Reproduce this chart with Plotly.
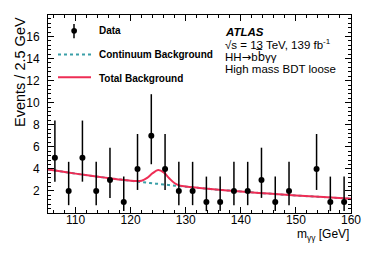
import plotly.graph_objects as go

# ---- data ----
bin_centers = [106.25, 108.75, 111.25, 113.75, 116.25, 118.75, 121.25, 123.75, 126.25, 128.75,
               131.25, 133.75, 136.25, 138.75, 141.25, 143.75, 146.25, 148.75, 151.25, 153.75,
               156.25, 158.75]
counts = [5, 2, 5, 2, 3, 1, 4, 7, 4, 2, 2, 1, 1, 2, 2, 3, 1, 2, None, 4, 1, 1]
err_up = [3.38, 2.64, 3.38, 2.64, 2.92, 2.30, 3.16, 3.77, 3.16, 2.64, 2.64, 2.30, 2.30, 2.64,
          2.64, 2.92, 2.30, 2.64, None, 3.16, 2.30, 2.30]
err_down = [2.16, 1.29, 2.16, 1.29, 1.63, 0.83, 1.91, 2.58, 1.91, 1.29, 1.29, 0.83, 0.83, 1.29,
            1.29, 1.63, 0.83, 1.29, None, 1.91, 0.83, 0.83]

curve_x = [105, 107.5, 110, 112.5, 115, 117.5, 120, 121, 122, 123, 124, 125, 126, 127, 128, 129,
           130, 132.5, 135, 137.5, 140, 145, 150, 155, 160]
continuum = [3.95, 3.76, 3.57, 3.39, 3.23, 3.07, 2.92, 2.86, 2.80, 2.75, 2.69, 2.64, 2.59, 2.53,
             2.48, 2.43, 2.39, 2.27, 2.15, 2.05, 1.95, 1.76, 1.59, 1.44, 1.30]
total_bkg = [3.95, 3.76, 3.57, 3.39, 3.23, 3.07, 2.92, 2.89, 2.93, 3.18, 3.61, 3.89, 3.68, 3.15,
             2.70, 2.48, 2.40, 2.27, 2.15, 2.05, 1.95, 1.76, 1.59, 1.44, 1.30]

x_ticks = [110, 120, 130, 140, 150, 160]
y_ticks = [2, 4, 6, 8, 10, 12, 14, 16]

FONT = "Liberation Sans, Arial, Helvetica, sans-serif"
RED = "#EE2D55"
TEAL = "#3A9FA8"

fig = go.Figure()
fig.add_trace(go.Scatter(x=curve_x, y=continuum, mode="lines",
                         line=dict(color=TEAL, width=2, dash="dot", shape="spline"),
                         showlegend=False, hoverinfo="skip"))
fig.add_trace(go.Scatter(x=curve_x, y=total_bkg, mode="lines",
                         line=dict(color=RED, width=2, shape="spline"),
                         showlegend=False, hoverinfo="skip"))
fig.add_trace(go.Scatter(x=bin_centers, y=counts, mode="markers",
                         marker=dict(color="black", size=6),
                         error_y=dict(type="data", symmetric=False, array=err_up,
                                      arrayminus=err_down, color="black", thickness=1.5, width=0),
                         showlegend=False))

# pixel helpers for the plot area
L, R, T, B = 48, 351, 15, 213
def px(x):
    return (x - L) / (R - L)
def py(y):
    return (B - y) / (B - T)

ann = []
for t, yy in [("<b>Data</b>", 31), ("<b>Continuum Background</b>", 55), ("<b>Total Background</b>", 78)]:
    ann.append(dict(x=px(97), y=py(yy), text=t, xanchor="left", yanchor="middle",
                    xref="paper", yref="paper", showarrow=False,
                    font=dict(family=FONT, size=10, color="black")))

info = [("<b><i>ATLAS</i></b>", 32), ("√s = 13 TeV, 139 fb<sup>-1</sup>", 44),
        ("HH<span style='font-family:DejaVu Sans'>→</span>b<span style='font-family:DejaVu Sans'>b\u0305</span>γγ", 56.5),
        ("High mass BDT loose", 69)]
for t, yy in info:
    ann.append(dict(x=px(223), y=py(yy), text=t, xanchor="left", yanchor="middle",
                    xref="paper", yref="paper", showarrow=False,
                    font=dict(family=FONT, size=11.5, color="black")))

ann.append(dict(x=1, y=py(235), xref="paper", yref="paper", text="m<sub>γγ</sub> [GeV]",
                xanchor="right", yanchor="middle", showarrow=False,
                font=dict(family=FONT, size=12, color="black")))
ann.append(dict(x=px(20), y=1, xref="paper", yref="paper", text="Events / 2.5 GeV",
                textangle=-90, xanchor="center", yanchor="top", showarrow=False,
                font=dict(family=FONT, size=14.5, color="black")))

shapes = [
    dict(type="line", xref="paper", yref="paper", x0=px(74), x1=px(74), y0=py(24), y1=py(38.3),
         line=dict(color="black", width=1.5)),
    dict(type="circle", xref="paper", yref="paper", x0=px(71.3), x1=px(77), y0=py(28), y1=py(33.7),
         fillcolor="black", line=dict(color="black", width=0)),
    dict(type="line", xref="paper", yref="paper", x0=px(58), x1=px(91), y0=py(54.5), y1=py(54.5),
         line=dict(color=TEAL, width=2, dash="dot")),
    dict(type="line", xref="paper", yref="paper", x0=px(58), x1=px(91), y0=py(77.3), y1=py(77.3),
         line=dict(color=RED, width=2)),
]

fig.update_layout(
    width=374, height=253,
    margin=dict(l=L, r=374 - R, t=T, b=253 - B),
    paper_bgcolor="white", plot_bgcolor="white",
    font=dict(family=FONT, size=12, color="black"),
    annotations=ann, shapes=shapes,
    xaxis=dict(range=[105, 160], tickvals=x_ticks, ticks="inside", ticklen=6, tickwidth=1,
               tickcolor="black", showline=True, linecolor="black", linewidth=1, mirror="allticks",
               showgrid=False, zeroline=False, tickfont=dict(size=12), ticklabelstandoff=-4,
               minor=dict(dtick=2, tick0=0, ticks="inside", ticklen=3, tickcolor="black", showgrid=False)),
    yaxis=dict(range=[0, 17.95], tickvals=y_ticks, ticks="inside", ticklen=6, tickwidth=1,
               tickcolor="black", showline=True, linecolor="black", linewidth=1, mirror="allticks",
               showgrid=False, zeroline=False, tickfont=dict(size=12), ticklabelstandoff=5,
               minor=dict(dtick=0.4, tick0=0, ticks="inside", ticklen=3, tickcolor="black", showgrid=False)),
)

fig.write_html("out.html", config={"displayModeBar": False},
               post_script="document.body.style.margin='0';document.body.style.overflow='hidden';")
